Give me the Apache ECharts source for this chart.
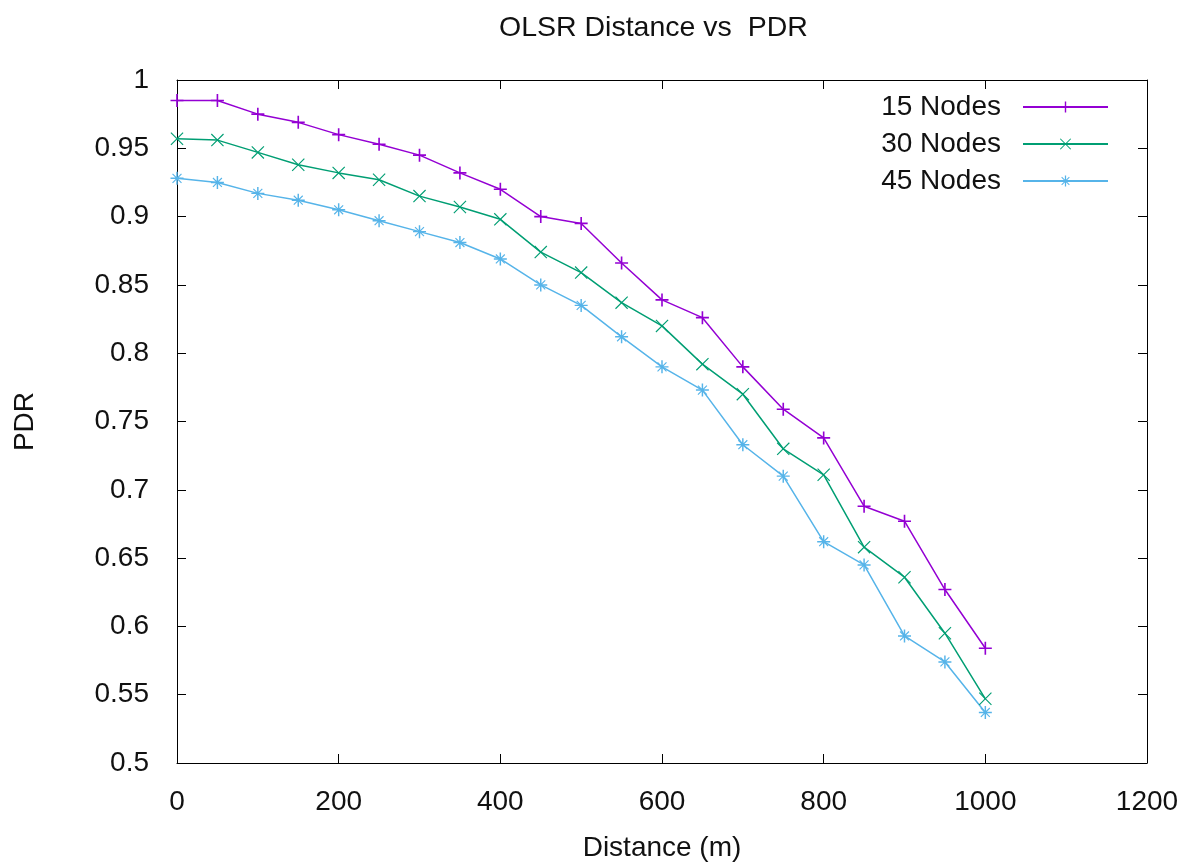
<!DOCTYPE html>
<html>
<head>
<meta charset="utf-8">
<script src="https://cdn.jsdelivr.net/npm/echarts@6/dist/echarts.min.js"></script>
<style>html,body{margin:0;padding:0;background:#fff;}#chart{width:1190px;height:863px;}</style>
</head>
<body>
<div id="chart"></div>
<script>
const distances = [0,50,100,150,200,250,300,350,400,450,500,550,600,650,700,750,800,850,900,950,1000];
const nodes15 = [0.985,0.985,0.975,0.969,0.960,0.953,0.945,0.932,0.920,0.900,0.895,0.866,0.839,0.826,0.790,0.759,0.738,0.688,0.677,0.627,0.584];
const nodes30 = [0.957,0.956,0.947,0.938,0.932,0.927,0.915,0.907,0.898,0.874,0.859,0.837,0.820,0.792,0.770,0.730,0.711,0.658,0.636,0.595,0.547];
const nodes45 = [0.928,0.925,0.917,0.912,0.905,0.897,0.889,0.881,0.869,0.850,0.835,0.812,0.790,0.773,0.733,0.710,0.662,0.645,0.593,0.574,0.537];
const seriesNames = ['15 Nodes','30 Nodes','45 Nodes'];
const titleText = 'OLSR Distance vs  PDR';
const xName = 'Distance (m)';
const yName = 'PDR';

const FONT = "'Liberation Sans', Arial, sans-serif";
const colors = ['#9400d3','#009e73','#56b4e9'];
const plusPath = 'path://M-1,-8H1V8H-1Z M-8,-1H8V1H-8Z';
const crossPath = 'path://M-8,-7L-7,-8L8,7L7,8Z M8,-7L-7,8L-8,7L7,-8Z';
const starPath = 'path://M-0.9,-8H0.9V8H-0.9Z M-8,-0.9H8V0.9H-8Z M-6,-5L-5,-6L6,5L5,6Z M6,-5L-5,6L-6,5L5,-6Z';
const symbols = [plusPath, crossPath, starPath];
const sizes = [13, 13, 13];
const dataSets = [nodes15, nodes30, nodes45];

const chart = echarts.init(document.getElementById('chart'), null, {renderer:'canvas'});
const axisCommon = {
  axisLine:{show:true, onZero:false, lineStyle:{color:'#000', width:1}},
  axisTick:{show:true, inside:true, length:9, lineStyle:{color:'#000', width:1}},
  splitLine:{show:false}
};
const series = dataSets.map((d,i)=>({
  name: seriesNames[i],
  type:'line',
  data: distances.map((x,j)=>[x,d[j]]),
  symbol: symbols[i],
  symbolSize: sizes[i],
  symbolKeepAspect: true,
  showAllSymbol: true,
  lineStyle:{color:colors[i], width:1.5},
  itemStyle:{color:colors[i]},
  emphasis:{disabled:true},
  animation:false
}));
chart.setOption({
  backgroundColor:'#fff',
  animation:false,
  title:{text:titleText, left:494, top:9, textStyle:{fontFamily:FONT, fontSize:28.5, fontWeight:'normal', color:'#111'}},
  grid:{left:177, right:43, top:80, bottom:100, containLabel:false, outerBoundsMode:'none'},
  legend:{
    orient:'vertical', align:'right', right:76, top:88,
    itemWidth:85, itemHeight:14, itemGap:9,
    textStyle:{fontFamily:FONT, fontSize:28, color:'#111', lineHeight:28, padding:[0,17,0,0]},
    data: seriesNames
  },
  xAxis:[
    Object.assign({type:'value', min:0, max:1200, interval:200, position:'bottom',
      name:xName, nameLocation:'middle', nameGap:71,
      nameTextStyle:{fontFamily:FONT, fontSize:28, color:'#111'},
      axisLabel:{fontFamily:FONT, fontSize:28, color:'#111', margin:25, formatter:(v)=>String(v)}}, axisCommon),
    Object.assign({type:'value', min:0, max:1200, interval:200, position:'top',
      axisLabel:{show:false}}, axisCommon)
  ],
  yAxis:[
    Object.assign({type:'value', min:0.5, max:1, interval:0.05, position:'left',
      name:yName, nameLocation:'middle', nameGap:138, nameRotate:90,
      nameTextStyle:{fontFamily:FONT, fontSize:28, color:'#111'},
      axisLabel:{fontFamily:FONT, fontSize:28, color:'#111', margin:28}}, axisCommon),
    Object.assign({type:'value', min:0.5, max:1, interval:0.05, position:'right',
      axisLabel:{show:false}}, axisCommon)
  ],
  series: series
});
</script>
</body>
</html>
